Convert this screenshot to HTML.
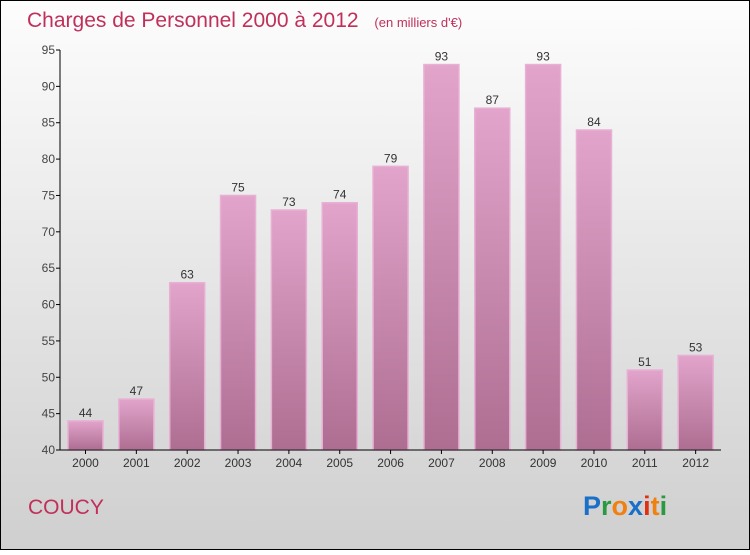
<!DOCTYPE html>
<html><head><meta charset="utf-8"><style>
body{margin:0}
#c{width:750px;height:550px;position:relative;font-family:"Liberation Sans",sans-serif}
</style></head><body>
<div id="c">
<svg width="750" height="550" xmlns="http://www.w3.org/2000/svg">
<defs>
<linearGradient id="bg" x1="0" y1="0" x2="0" y2="1"><stop offset="0" stop-color="#fdfdfd"/><stop offset="1" stop-color="#cfcfcf"/></linearGradient>
<linearGradient id="bar" x1="0" y1="0" x2="0" y2="1"><stop offset="0" stop-color="#e2a4cb"/><stop offset="1" stop-color="#ae6e92"/></linearGradient>
</defs>
<rect x="0.5" y="0.5" width="749" height="549" fill="url(#bg)" stroke="#000"/>
<text x="27" y="27" font-size="21" fill="#c0305a">Charges de Personnel 2000 à 2012 <tspan font-size="13" dx="10">(en milliers d'€)</tspan></text>
<g id="plot"></g>
<text x="28" y="514" font-size="21" fill="#c0305a">COUCY</text>
<text x="583" y="515" font-size="27" font-weight="bold"><tspan fill="#1a70c8">P</tspan><tspan fill="#2a9a40">r</tspan><tspan fill="#f08010">o</tspan><tspan fill="#1a70c8">x</tspan><tspan fill="#e03010">i</tspan><tspan fill="#f08010">t</tspan><tspan fill="#2a9a40">i</tspan></text>
</svg>
</div>
<script>
const categories=["2000","2001","2002","2003","2004","2005","2006","2007","2008","2009","2010","2011","2012"];
const values=[44,47,63,75,73,74,79,93,87,93,84,51,53];
const yTicks=[40,45,50,55,60,65,70,75,80,85,90,95];
const NS="http://www.w3.org/2000/svg";
const g=document.getElementById('plot');
const x0=60,x1=721,yTop=50,yBot=450,vMin=40,vMax=95;
const band=(x1-x0)/categories.length;
function yS(v){return yBot-(v-vMin)/(vMax-vMin)*(yBot-yTop);}
function xS(i){return x0+i*band;}
function mk(t,a){const e=document.createElementNS(NS,t);for(const k in a)e.setAttribute(k,a[k]);g.appendChild(e);return e;}
values.forEach((v,i)=>{
 const r=mk('rect',{x:xS(i)+8,y:yS(v),width:35,height:yBot-yS(v),fill:'url(#bar)',stroke:'#e8b0d4','stroke-width':1.5});
 
 
 const t=mk('text',{x:xS(i)+25.5,y:yS(v)-4,'text-anchor':'middle','font-size':12,fill:'#333'});
 t.textContent=v;
 
 
 const c=mk('text',{x:xS(i)+25.5,y:467,'text-anchor':'middle','font-size':12,fill:'#333'});
 c.textContent=categories[i];
 
 
 const tk=mk('line',{x1:xS(i)+25.5,x2:xS(i)+25.5,y1:yBot,y2:yBot+4,stroke:'#000'});
 
 
});
yTicks.forEach(v=>{
 const l=mk('line',{x1:x0-4,x2:x0,y1:yS(v),y2:yS(v),stroke:'#000'});
 
 
 const t=mk('text',{x:x0-5,y:yS(v)+4,'text-anchor':'end','font-size':12,fill:'#444'});
 t.textContent=v;
 
 
});
const ya=mk('line',{x1:x0,x2:x0,y1:yTop,y2:yBot,stroke:'#000'});


const xa=mk('line',{x1:x0,x2:x1,y1:yBot,y2:yBot,stroke:'#000'});


</script>
</body></html>
